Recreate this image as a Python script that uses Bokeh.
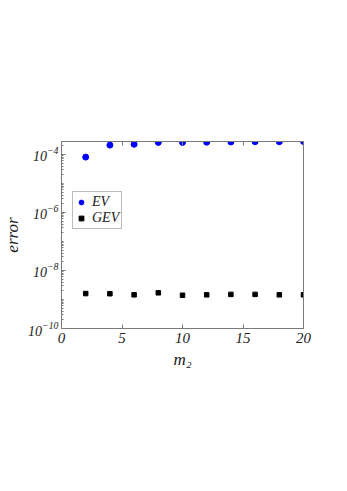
from bokeh.plotting import figure
from bokeh.models import FixedTicker, LinearAxis, Range1d, Legend, LegendItem
from bokeh.embed import file_html
from bokeh.resources import INLINE

m2 = [2, 4, 6, 8, 10, 12, 14, 16, 18, 20]
ev = [8.1e-5, 2.1e-4, 2.25e-4, 2.6e-4, 2.6e-4, 2.65e-4, 2.7e-4, 2.75e-4, 2.75e-4, 2.8e-4]
gev = [1.6e-9, 1.58e-9, 1.45e-9, 1.7e-9, 1.4e-9, 1.45e-9, 1.5e-9, 1.5e-9, 1.45e-9, 1.45e-9]
x_ticks = [0, 5, 10, 15, 20]
y_ticks = [1e-10, 1e-8, 1e-6, 1e-4]

FONT = "Liberation Serif"
AX = "#7a7a7a"

p = figure(width=331, height=475, frame_width=242, frame_height=187,
           y_axis_type="log", x_range=Range1d(0, 20), y_range=Range1d(1e-10, 2.8e-4),
           output_backend="svg", toolbar_location=None,
           min_border_left=58, min_border_top=141, min_border_right=31, min_border_bottom=147)
p.xgrid.visible = False
p.ygrid.visible = False
p.outline_line_color = AX
p.background_fill_color = "white"

minor = [k * 10.0 ** e for e in range(-10, -3) for k in range(1, 10)]

def style(ax, labels=True):
    ax.axis_line_color = AX
    ax.major_tick_in = 4
    ax.major_tick_out = 0
    ax.minor_tick_in = 2
    ax.minor_tick_out = 0
    ax.major_tick_line_color = AX
    ax.minor_tick_line_color = AX
    ax.major_label_text_font = FONT
    ax.major_label_text_font_style = "italic"
    ax.major_label_text_font_size = "15px"
    ax.major_label_text_color = "#222222"
    ax.axis_label_text_font = FONT
    ax.axis_label_text_font_style = "italic"
    ax.axis_label_text_font_size = "17px"
    ax.axis_label_text_color = "#222222"
    if not labels:
        ax.major_label_text_alpha = 0

p.xaxis.ticker = FixedTicker(ticks=x_ticks)
p.xaxis.axis_label = "m₂"
p.xaxis.axis_label_standoff = 4
p.xaxis.major_label_standoff = 4
p.yaxis.ticker = FixedTicker(ticks=y_ticks, minor_ticks=minor)
p.yaxis.axis_label = "error"
style(p.xaxis[0])
style(p.yaxis[0])
p.yaxis.major_label_text_font_size = "14px"
p.yaxis.axis_label_standoff = 3
p.yaxis.major_label_standoff = 3

top = LinearAxis(ticker=FixedTicker(ticks=x_ticks))
style(top, labels=False)
p.add_layout(top, "above")
right = LinearAxis(ticker=FixedTicker(ticks=[]))
style(right, labels=False)
p.add_layout(right, "right")

r1 = p.scatter(m2, ev, marker="circle", size=6, color="#0000ff")
r2 = p.scatter(m2, gev, marker="square", size=4.5, color="black")

leg = Legend(items=[LegendItem(label="EV", renderers=[r1]), LegendItem(label="GEV", renderers=[r2])],
             location=(11, 99))
leg.label_text_font = FONT
leg.label_text_font_style = "italic"
leg.label_text_font_size = "14px"
leg.label_text_color = "#222222"
leg.border_line_color = AX
leg.padding = 2
leg.spacing = 0
leg.glyph_width = 12
leg.glyph_height = 14
leg.label_height = 14
leg.label_standoff = 5
leg.margin = 0
p.add_layout(leg)

open("out.html", "w").write(file_html(p, INLINE))
